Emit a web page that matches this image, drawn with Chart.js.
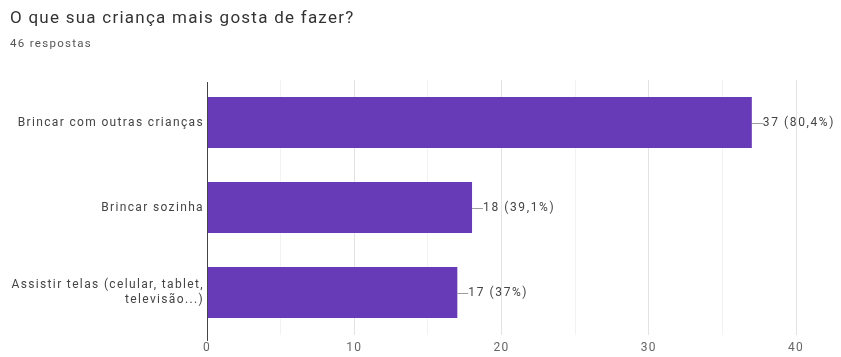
<!DOCTYPE html>
<html>
<head>
<meta charset="utf-8">
<script src="https://cdn.jsdelivr.net/npm/chart.js@4"></script>
<style>
  html,body{margin:0;padding:0;background:#fff;}
  #wrap{position:relative;width:841px;height:357px;overflow:hidden;font-family:Roboto, Arial, sans-serif;}
  #title{position:absolute;left:10px;top:7px;font-size:17px;letter-spacing:1.25px;color:#333;white-space:nowrap;}
  #sub{position:absolute;left:10px;top:36px;font-size:11.5px;letter-spacing:1.3px;color:#555;white-space:nowrap;}
  canvas{position:absolute;left:0;top:0;}
</style>
</head>
<body>
<div id="wrap">
  <canvas id="c" width="841" height="357"></canvas>
  <div id="title">O que sua criança mais gosta de fazer?</div>
  <div id="sub">46 respostas</div>
</div>
<script>
const categories = [
  "Brincar com outras crianças",
  "Brincar sozinha",
  ["Assistir telas (celular, tablet,", "televisão...)"]
];
const counts = [37, 18, 17];
const percentLabels = ["80,4%", "39,1%", "37%"];
const xTicks = [0, 10, 20, 30, 40];

const spacingPlugin = {
  id: 'spacing',
  beforeDraw(chart) { chart.ctx.letterSpacing = '1.35px'; }
};

const axisLinePlugin = {
  id: 'axisLine',
  afterDatasetsDraw(chart) {
    const ctx = chart.ctx;
    const x0 = Math.round(chart.scales.x.getPixelForValue(0)) + 0.5;
    ctx.save();
    ctx.strokeStyle = '#444';
    ctx.lineWidth = 1;
    ctx.beginPath();
    ctx.moveTo(x0, chart.chartArea.top + 2);
    ctx.lineTo(x0, chart.chartArea.bottom + 6);
    ctx.stroke();
    ctx.restore();
  }
};

const labelPlugin = {
  id: 'barLabels',
  afterDatasetsDraw(chart) {
    const ctx = chart.ctx;
    const meta = chart.getDatasetMeta(0);
    ctx.save();
    ctx.font = '12px Roboto, Arial, sans-serif';
    ctx.letterSpacing = '1.6px';
    ctx.textBaseline = 'middle';
    ctx.textAlign = 'left';
    meta.data.forEach((bar, i) => {
      const x = bar.x, y = bar.y;
      ctx.strokeStyle = '#9e9e9e';
      ctx.lineWidth = 1;
      ctx.beginPath();
      ctx.moveTo(x, Math.round(y) + 0.5);
      ctx.lineTo(x + 11, Math.round(y) + 0.5);
      ctx.stroke();
      ctx.fillStyle = '#444';
      ctx.fillText(counts[i] + ' (' + percentLabels[i] + ')', x + 11, y);
    });
    ctx.restore();
  }
};

new Chart(document.getElementById('c'), {
  type: 'bar',
  data: {
    labels: categories,
    datasets: [{
      data: counts,
      backgroundColor: '#673ab7',
      categoryPercentage: 0.6,
      barPercentage: 1.0
    }]
  },
  options: {
    indexAxis: 'y',
    responsive: false,
    animation: false,
    devicePixelRatio: 1,
    layout: { padding: { top: 80, right: 45, left: 0, bottom: 0 } },
    plugins: { legend: { display: false }, tooltip: { enabled: false } },
    scales: {
      x: {
        min: 0, max: 40,
        afterFit(scale) { scale.height = 22; },
        ticks: {
          stepSize: 5,
          autoSkip: false,
          maxRotation: 0,
          color: '#666',
          font: { size: 12, family: 'Roboto, Arial, sans-serif' },
          padding: 6,
          callback(v) { return xTicks.includes(v) ? v : ''; }
        },
        grid: {
          color(ctx) {
            const v = ctx.tick ? ctx.tick.value : 0;
            if (v === 0) return 'rgba(0,0,0,0)';
            return v % 10 === 0 ? '#e3e3e3' : '#f2f2f2';
          },
          drawTicks: false
        },
        border: { display: false }
      },
      y: {
        afterFit(scale) { scale.width = 207; },
        ticks: {
          color: '#444',
          font: { size: 12, family: 'Roboto, Arial, sans-serif', lineHeight: 1.25 },
          padding: 3
        },
        grid: { display: false, drawTicks: false },
        border: { display: false }
      }
    }
  },
  plugins: [spacingPlugin, axisLinePlugin, labelPlugin]
});
</script>
</body>
</html>
